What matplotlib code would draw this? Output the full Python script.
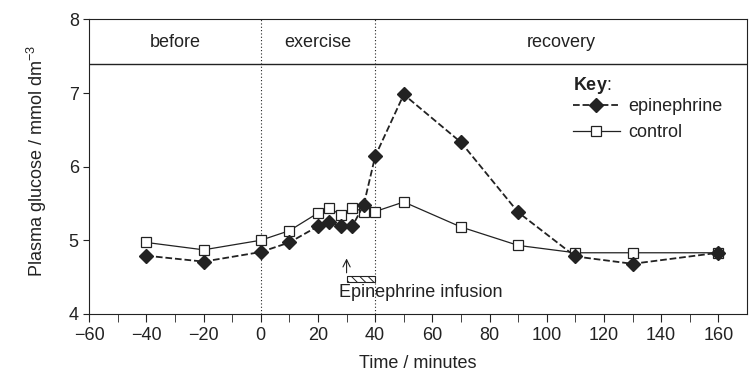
import matplotlib
matplotlib.use("Agg")
import matplotlib.pyplot as plt
from matplotlib.patches import Rectangle

plt.rcParams['font.family'] = ['Liberation Sans', 'DejaVu Sans']
plt.rcParams['mathtext.fontset'] = 'custom'
plt.rcParams['mathtext.rm'] = 'Liberation Sans'
plt.rcParams['mathtext.bf'] = 'Liberation Sans:bold'
plt.rcParams['font.size'] = 13
plt.rcParams['hatch.linewidth'] = 0.7

ink = '#222222'

# time points (minutes)
t = [-40, -20, 0, 10, 20, 24, 28, 32, 36, 40, 50, 70, 90, 110, 130, 160]
epinephrine = [4.79, 4.71, 4.84, 4.97, 5.19, 5.25, 5.19, 5.19, 5.48, 6.14,
               6.98, 6.33, 5.38, 4.78, 4.68, 4.83]
control = [4.97, 4.87, 5.00, 5.13, 5.37, 5.44, 5.34, 5.44, 5.39, 5.39,
           5.52, 5.18, 4.93, 4.83, 4.83, 4.83]

phases = ['before', 'exercise', 'recovery']
phase_bounds = [-60, 0, 40, 170]
infusion = (30, 40)

fig = plt.figure(figsize=(7.56, 3.8), dpi=100)
ax = fig.add_axes([0.118, 0.174, 0.870, 0.775])

ax.plot(t, control, '-', color=ink, lw=0.9, marker='s', ms=7,
        mfc='white', mec=ink, mew=0.9, label='control', zorder=3)
ax.plot(t, epinephrine, '--', color=ink, lw=1.3, marker='D', ms=6.8,
        mfc=ink, mec=ink, label='epinephrine', zorder=4)

# phase header
ax.axhline(7.4, color=ink, lw=1)
for b in phase_bounds[1:-1]:
    ax.axvline(b, color=ink, lw=0.8, ls=(0, (1, 2)))
for i, name in enumerate(phases):
    mid = (phase_bounds[i] + phase_bounds[i + 1]) / 2
    ax.text(mid, 7.69, name, ha='center', va='center', color=ink)

# infusion marker
ax.add_patch(Rectangle((infusion[0], 4.43), infusion[1] - infusion[0], 0.09,
                       facecolor='white', edgecolor=ink, lw=0.8, hatch='\\\\\\\\'))
ax.annotate('', xy=(infusion[0], 4.79), xytext=(infusion[0], 4.52),
            arrowprops=dict(arrowstyle='->', color=ink, lw=0.8))
ax.text(56, 4.29, 'Epinephrine infusion', ha='center', va='center', color=ink)

ax.set_xlim(-60, 170)
ax.set_ylim(4, 8)
ax.set_xticks(range(-60, 170, 10), minor=True)
ax.set_xticks(range(-60, 161, 20))
ax.set_yticks([4, 5, 6, 7, 8])
ax.tick_params(which='both', direction='out', color=ink, labelcolor=ink)
ax.tick_params(axis='x', which='both', length=6)
ax.tick_params(axis='y', length=4)
for s in ax.spines.values():
    s.set_color(ink)

ax.set_xlabel('Time / minutes', color=ink, labelpad=8)
ax.set_ylabel('Plasma glucose / mmol dm$^{-3}$', color=ink)
ax.yaxis.set_label_coords(-0.061, 0.52)

ax.text(0.735, 0.775, r'$\mathbf{Key}$:', transform=ax.transAxes,
        ha='left', va='center', color=ink)
h, l = ax.get_legend_handles_labels()
leg = ax.legend(h[::-1], l[::-1], loc='upper left', bbox_to_anchor=(0.735, 0.733),
                frameon=False, handlelength=2.6, handletextpad=0.5,
                borderaxespad=0, borderpad=0, labelspacing=0.5, fontsize=13)
for txt in leg.get_texts():
    txt.set_color(ink)

fig.savefig('out.png', dpi=100)
